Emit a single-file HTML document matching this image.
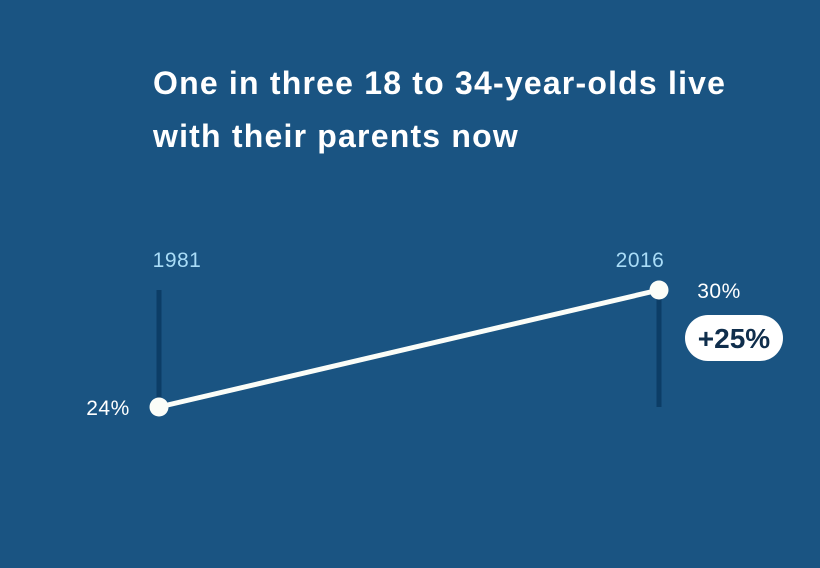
<!DOCTYPE html>
<html><head><meta charset="utf-8"><style>
html,body{margin:0;padding:0}
body{width:820px;height:568px;background:#1a5482;font-family:"Liberation Sans",sans-serif;overflow:hidden;position:relative}
h1{position:absolute;left:153px;top:57px;margin:0;color:#fff;font-size:32px;font-weight:bold;line-height:53px;letter-spacing:1.2px;white-space:nowrap}
</style></head><body>
<h1>One in three 18 to 34-year-olds live<br>with their parents now</h1>
<svg id="chart" width="820" height="568" style="position:absolute;left:0;top:0"></svg>
<script>
const years = ["1981","2016"];
const values = [24,30];
const valueLabels = ["24%","30%"];
const changeLabel = "+25%";
const NS="http://www.w3.org/2000/svg";
const svg=document.getElementById('chart');
function x(i){return 159+i*500;}
function y(v){return 407-(v-24)*19.5;}
function mk(t,a,txt){const e=document.createElementNS(NS,t);for(const k in a)e.setAttribute(k,a[k]);if(txt!==undefined)e.textContent=txt;svg.appendChild(e);return e;}
years.forEach((yr,i)=>{
  const r=mk('rect',{x:x(i)-2.5,y:y(30),width:5,height:y(24)-y(30),fill:'#0c3d66'});
  
  
  const t=mk('text',{x:x(i)+(i?-19:18),y:y(30)-23,'text-anchor':'middle',fill:'#a9dcf7','font-size':'21','letter-spacing':'0.5','font-family':'Liberation Sans, sans-serif'},yr);
  
  
});
const ln=mk('line',{x1:x(0),y1:y(values[0]),x2:x(1),y2:y(values[1]),stroke:'#fbfdf8','stroke-width':5});


values.forEach((v,i)=>{
  const c=mk('circle',{cx:x(i),cy:y(v),r:9.5,fill:'#fbfdf8'});
  
  
  const t=mk('text',{x:i?x(i)+60:x(i)-51,y:y(v)+8,'text-anchor':'middle',fill:'#fff','font-size':'21','letter-spacing':'0.5','font-family':'Liberation Sans, sans-serif'},valueLabels[i]);
  
  
});
const pill=mk('rect',{x:685,y:315,width:98,height:46,rx:23,fill:'#fff'});


const pt=mk('text',{x:734,y:348,'text-anchor':'middle',fill:'#0f2e4c','font-size':'28','font-weight':'bold','font-family':'Liberation Sans, sans-serif'},changeLabel);


</script>
</body></html>
